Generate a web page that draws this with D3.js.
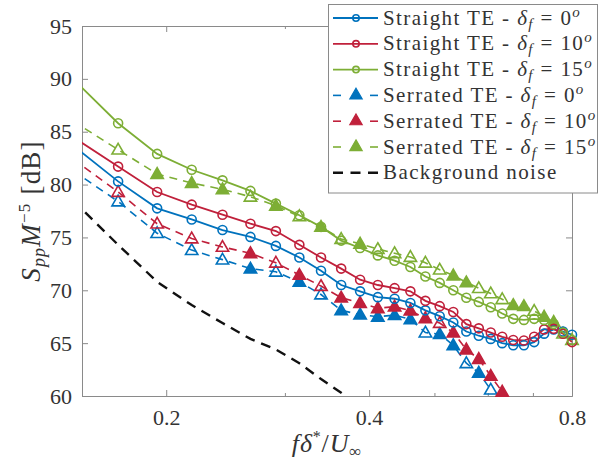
<!DOCTYPE html>
<html><head><meta charset="utf-8">
<script src="https://cdn.jsdelivr.net/npm/d3@7"></script>
<style>
body{margin:0;background:#fff;}
svg{display:block;font-family:"Liberation Serif","Times New Roman",serif;}
</style></head>
<body><svg id="c" width="598" height="468"></svg>
<script>
// ---- data ----
const freq = [0.1455,0.1697,0.1939,0.2182,0.2424,0.2667,0.2909,0.3152,0.3394,0.3636,0.3879,0.4121,0.4364,0.4606,0.4848,0.5091,0.5333,0.5576,0.5818,0.6061,0.6303,0.6545,0.6788,0.7030,0.7273,0.7515,0.7758,0.8000];
const straight0  = [83.7,80.3,77.75,76.7,75.7,75.05,74.2,73.1,71.85,70.5,69.9,69.35,69.2,68.8,68.1,67.55,66.95,66.1,65.7,65.4,65.0,64.8,64.8,65.1,65.9,66.3,66.1,65.8];
const straight10 = [84.5,81.7,79.3,78.1,77.15,76.3,75.6,74.3,73.1,72.05,71.0,70.5,70.2,69.9,69.0,68.5,67.95,66.8,66.4,66.0,65.6,65.3,65.25,65.6,66.3,66.35,65.9,65.1];
const straight15 = [90.0,85.8,82.9,81.4,80.4,79.4,78.2,77.1,76.0,74.7,74.0,73.3,72.8,72.2,71.3,70.7,70.0,69.3,68.9,68.4,67.8,67.3,67.2,67.3,67.2,66.8,66.0,65.3];
const serrated0  = [81.3,78.4,75.4,73.8,72.9,72.05,71.75,70.8,69.6,68.1,67.7,67.5,67.65,67.25,66.0,65.85,64.8,63.1,62.2,60.6];
const serrated10 = [82.4,79.3,76.3,74.9,74.1,73.5,72.6,71.45,70.4,69.3,68.8,68.3,68.45,68.07,67.35,66.9,66.0,64.4,63.5,61.9,60.4];
const serrated15 = [86.0,83.3,81.0,80.15,79.55,78.85,78.0,77.0,76.0,74.85,74.4,73.9,73.5,73.15,72.6,71.95,71.4,70.75,70.2,69.7,69.15,68.6,68.5,68.05,67.5,67.0,65.9,65.3];
const filled0  = [0,0,0,0,0,1,0,1,0,1,1,1,1,1,0,1,1,0,1,0];
const filled10 = [0,0,0,0,0,1,0,1,0,1,1,1,1,1,1,0,1,1,1,1,1];
const filled15 = [0,0,1,1,1,0,1,0,1,0,1,0,0,0,0,0,1,1,0,0,0,1,1,0,1,1,0,0];
const noise = [78.5,74.3,70.8,68.6,66.9,65.4,64.4,63.1,61.6,60.3,59.0];
const xTicks = [0.2,0.4,0.8];
const xMinor = [0.3,0.5,0.6,0.7];
const yTicks = [60,65,70,75,80,85,90,95];
const legendLabels = ["Straight TE","Straight TE","Straight TE","Serrated TE","Serrated TE","Serrated TE","Background noise"];
const legendAngles = ["0","10","15","0","10","15",null];

const colBlue="#0072BD", colRed="#C0203B", colGreen="#7DAE35";

const svg = d3.select("#c");
const L=82,R=572,T=26,B=396;
const x = d3.scaleLog().domain([0.15,0.8]).range([L,R]);
const y = d3.scaleLinear().domain([60,95]).range([B,T]);

svg.append("defs").append("clipPath").attr("id","clip")
  .append("rect").attr("x",L).attr("y",T).attr("width",R-L).attr("height",B-T);

const axisCol="#8a8a8a", textCol="#333";

function styleAxis(g){
  g.attr("font-family",null);
  g.select(".domain").attr("stroke",axisCol).attr("stroke-width",1);
  g.selectAll(".tick line").attr("stroke",axisCol);
  g.selectAll(".tick text").attr("fill",textCol).attr("font-size",22).attr("font-family","Liberation Serif, serif");
}
svg.append("g").attr("transform",`translate(0,${B})`)
  .call(d3.axisBottom(x).tickValues(xTicks).tickFormat(d3.format(".1f")).tickSize(-6).tickSizeOuter(0).tickPadding(13)).call(styleAxis);
svg.append("g").attr("transform",`translate(0,${B})`)
  .call(d3.axisBottom(x).tickValues(xMinor).tickFormat("").tickSize(-3).tickSizeOuter(0)).call(styleAxis);
svg.append("g").attr("transform",`translate(0,${T})`)
  .call(d3.axisTop(x).tickValues(xTicks).tickFormat("").tickSize(-6).tickSizeOuter(0)).call(styleAxis);
svg.append("g").attr("transform",`translate(0,${T})`)
  .call(d3.axisTop(x).tickValues(xMinor).tickFormat("").tickSize(-3).tickSizeOuter(0)).call(styleAxis);
svg.append("g").attr("transform",`translate(${L},0)`)
  .call(d3.axisLeft(y).tickValues(yTicks).tickSize(-6).tickSizeOuter(0).tickPadding(10)).call(styleAxis);
svg.append("g").attr("transform",`translate(${R},0)`)
  .call(d3.axisRight(y).tickValues(yTicks).tickFormat("").tickSize(-6).tickSizeOuter(0)).call(styleAxis);

const line = d3.line().x(d=>x(d[0])).y(d=>y(d[1]));
const plot = svg.append("g");
const clipped = plot.append("g").attr("clip-path","url(#clip)");
function pairs(vals){ return vals.map((v,i)=>[freq[i],v]); }

const series = [
  {vals:noise, col:"#111", dash:"10,7", w:2.4, mk:null},
  {vals:serrated0, col:colBlue, dash:"8,6", w:1.6, mk:"tri", fill:filled0},
  {vals:serrated10, col:colRed, dash:"8,6", w:1.6, mk:"tri", fill:filled10},
  {vals:serrated15, col:colGreen, dash:"8,6", w:1.6, mk:"tri", fill:filled15},
  {vals:straight0, col:colBlue, dash:null, w:1.8, mk:"circ"},
  {vals:straight10, col:colRed, dash:null, w:1.8, mk:"circ"},
  {vals:straight15, col:colGreen, dash:null, w:1.8, mk:"circ"},
];
const tri = d3.symbol().type(d3.symbolTriangle).size(66);
series.forEach(s=>{
  const p = pairs(s.vals);
  clipped.append("path").datum(p).attr("d",line).attr("fill","none")
    .attr("stroke",s.col).attr("stroke-width",s.w).attr("stroke-dasharray",s.dash);
  const inside = p.map((d,i)=>({d,i})).filter(o=>o.d[0]>=0.15 && o.d[0]<=0.8 && o.d[1]>=60 && o.d[1]<=95);
  if(s.mk==="circ"){
    plot.selectAll(null).data(inside).enter().append("circle")
      .attr("cx",o=>x(o.d[0])).attr("cy",o=>y(o.d[1])).attr("r",4.5)
      .attr("fill","none").attr("stroke",s.col).attr("stroke-width",1.6);
  } else if(s.mk==="tri"){
    plot.selectAll(null).data(inside).enter().append("path")
      .attr("d",tri).attr("transform",o=>`translate(${x(o.d[0])},${y(o.d[1])+0.8})`)
      .attr("fill",o=>s.fill[o.i]?s.col:"none").attr("stroke",s.col).attr("stroke-width",1.6);
  }
});

// axis labels
const xl = svg.append("text").attr("x",327).attr("y",452).attr("text-anchor","middle")
  .attr("font-size",26).attr("fill",textCol).attr("letter-spacing",0.8);
xl.append("tspan").attr("font-style","italic").text("fδ");
xl.append("tspan").attr("font-size",16).attr("dy",-10).text("*");
xl.append("tspan").attr("dy",10).text("/");
xl.append("tspan").attr("font-style","italic").text("U");
xl.append("tspan").attr("font-size",17).attr("dy",5).text("∞");

const yl = svg.append("text").attr("transform","translate(40,211) rotate(-90)").attr("text-anchor","middle")
  .attr("font-size",27).attr("fill",textCol).attr("letter-spacing",1.2);
yl.append("tspan").attr("font-style","italic").text("S");
yl.append("tspan").attr("font-style","italic").attr("font-size",18).attr("dy",5).text("pp");
yl.append("tspan").attr("font-style","italic").attr("dy",-5).text("M");
yl.append("tspan").attr("font-size",17).attr("dy",-10).text("−5");
yl.append("tspan").attr("dy",10).text("\u00A0[dB]");

// legend
const lg = svg.append("g");
lg.append("rect").attr("x",328.5).attr("y",4.5).attr("width",269).attr("height",188.5)
  .attr("fill","#fff").attr("stroke",axisCol).attr("stroke-width",1);
const legSeries = [series[4],series[5],series[6],series[1],series[2],series[3],series[0]];
legSeries.forEach((s,i)=>{
  const cy = 18 + i*25.8;
  const g = lg.append("g");
  if(s.mk==="circ"){
    g.append("line").attr("x1",333).attr("x2",378).attr("y1",cy).attr("y2",cy).attr("stroke",s.col).attr("stroke-width",s.w);
    g.append("circle").attr("cx",356).attr("cy",cy).attr("r",3.2).attr("fill","none").attr("stroke",s.col).attr("stroke-width",1.6);
  } else if(s.mk==="tri"){
    g.append("line").attr("x1",333).attr("x2",341).attr("y1",cy).attr("y2",cy).attr("stroke",s.col).attr("stroke-width",s.w);
    g.append("line").attr("x1",370).attr("x2",378).attr("y1",cy).attr("y2",cy).attr("stroke",s.col).attr("stroke-width",s.w);
    g.append("path").attr("d",tri).attr("transform",`translate(356,${cy})`).attr("fill",s.col).attr("stroke",s.col).attr("stroke-width",1.2);
  } else {
    g.append("line").attr("x1",333).attr("x2",378).attr("y1",cy).attr("y2",cy).attr("stroke",s.col).attr("stroke-width",s.w).attr("stroke-dasharray","10,7.5");
  }
  const t = g.append("text").attr("x",383).attr("y",cy+6.5).attr("font-size",21).attr("fill",textCol).attr("letter-spacing",1.4);
  if(legendAngles[i]!==null){
    t.append("tspan").text(legendLabels[i]+" - ");
    t.append("tspan").attr("font-style","italic").text("δ");
    t.append("tspan").attr("font-style","italic").attr("font-size",15).attr("dy",4).text("f");
    t.append("tspan").attr("dy",-4).text("\u00A0=\u00A0"+legendAngles[i]);
    t.append("tspan").attr("font-style","italic").attr("font-size",15).attr("dy",-8).text("o");
  } else {
    t.text(legendLabels[i]);
  }
});
</script></body></html>
